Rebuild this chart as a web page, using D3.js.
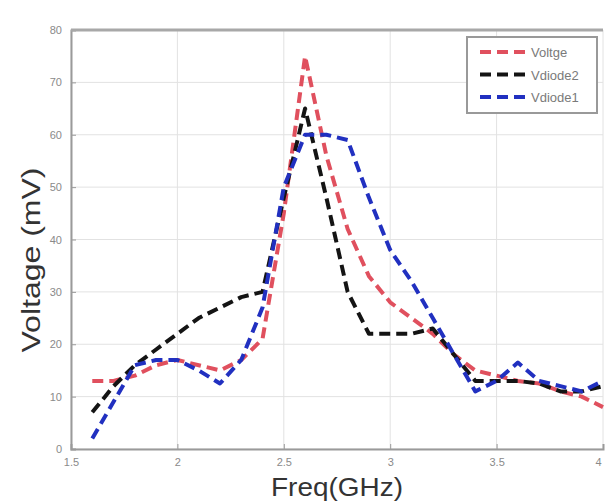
<!DOCTYPE html>
<html>
<head>
<meta charset="utf-8">
<script src="https://cdn.jsdelivr.net/npm/d3@7"></script>
<style>
  body { margin: 0; background: #fff; }
  svg { font-family: Arial, "Liberation Sans", sans-serif; }
  .grid line { stroke: #e2e2e2; stroke-width: 1; }
  .axis path, .axis line { stroke: #9a9a9a; }
  .axis text { fill: #8a8a8a; font-size: 11px; }
</style>
</head>
<body>
<svg id="chart" width="605" height="503"></svg>
<script>
  // frequency points (GHz)
  var freq = [1.6, 1.7, 1.8, 1.9, 2.0, 2.1, 2.2, 2.3, 2.4, 2.5, 2.6, 2.7, 2.8,
              2.9, 3.0, 3.1, 3.2, 3.3, 3.4, 3.5, 3.6, 3.7, 3.8, 3.9, 4.0];
  var voltge  = [13, 13, 14, 16, 17, 16, 15, 17, 21, 45, 75, 56, 42,
                 33, 28, 25, 22, 18, 15, 14, 13, 12.5, 11, 10, 8];
  var vdiode2 = [7, 12, 16, 19, 22, 25, 27, 29, 30, 48, 65, 48, 30,
                 22, 22, 22, 23, 18, 13, 13, 13, 12.5, 11, 11, 12];
  var vdiode1 = [2, 9, 16, 17, 17, 15, 12.5, 17, 27, 50, 60, 60, 59,
                 48, 38, 32, 25, 18, 11, 13, 16.5, 13, 12, 11, 13];
  var xTicks = [1.5, 2, 2.5, 3, 3.5, 4];
  var yTicks = [0, 10, 20, 30, 40, 50, 60, 70, 80];
  var seriesNames = ['Voltge', 'Vdiode2', 'Vdiode1'];
  var seriesColors = ['#e0505e', '#141414', '#2130c0'];

  var svg = d3.select('#chart'),
      margin = {top: 30, right: 2, bottom: 54, left: 71},
      width = +svg.attr('width') - margin.left - margin.right,
      height = +svg.attr('height') - margin.top - margin.bottom,
      g = svg.append('g').attr('transform', 'translate(' + margin.left + ',' + margin.top + ')');

  var x = d3.scaleLinear().domain([1.5, 4]).range([0, width]);
  var y = d3.scaleLinear().domain([0, 80]).range([height, 0]);

  // grid
  g.append('g').attr('class', 'grid')
    .selectAll('line.h').data(yTicks).enter().append('line')
      .attr('x1', 0).attr('x2', width)
      .attr('y1', function (d) { return y(d); })
      .attr('y2', function (d) { return y(d); });
  g.append('g').attr('class', 'grid')
    .selectAll('line.v').data(xTicks).enter().append('line')
      .attr('y1', 0).attr('y2', height)
      .attr('x1', function (d) { return x(d); })
      .attr('x2', function (d) { return x(d); });

  // axes
  var xAxisG = g.append('g').attr('class', 'x axis')
    .attr('transform', 'translate(0,' + height + ')')
    .call(d3.axisBottom(x).tickValues(xTicks).tickSize(-5).tickPadding(9)
      .tickFormat(d3.format('')));
  // last label sits on the right edge, keep it inside
  xAxisG.selectAll('.tick text')
    .filter(function (d) { return d === 4; })
    .style('text-anchor', 'end').attr('x', -2);
  g.append('g').attr('class', 'y axis')
    .call(d3.axisLeft(y).tickValues(yTicks).tickSize(-5).tickPadding(9));
  g.selectAll('.axis path').attr('stroke-width', 2);

  // top border
  g.append('line')
    .attr('x1', 0).attr('x2', width).attr('y1', 0).attr('y2', 0)
    .attr('stroke', '#a8a8a8').attr('stroke-width', 3);

  // series
  var line = d3.line()
    .x(function (d) { return x(d[0]); })
    .y(function (d) { return y(d[1]); });
  var allSeries = [voltge, vdiode2, vdiode1];
  allSeries.forEach(function (vals, i) {
    g.append('path')
      .datum(freq.map(function (f, j) { return [f, vals[j]]; }))
      .attr('fill', 'none')
      .attr('stroke', seriesColors[i])
      .attr('stroke-width', 4)
      .attr('stroke-dasharray', '11,6')
      .attr('stroke-linejoin', 'round')
      .attr('d', line);
  });

  // legend
  var lg = svg.append('g').attr('transform', 'translate(467,37)');
  lg.append('rect').attr('width', 130).attr('height', 76)
    .attr('fill', '#fff').attr('stroke', '#999').attr('stroke-width', 2);
  seriesNames.forEach(function (name, i) {
    var yy = 15 + i * 22.5;
    lg.append('line')
      .attr('x1', 13).attr('x2', 61).attr('y1', yy).attr('y2', yy)
      .attr('stroke', seriesColors[i]).attr('stroke-width', 4)
      .attr('stroke-dasharray', '11,6');
    lg.append('text').attr('x', 64).attr('y', yy + 5)
      .attr('font-size', 13).attr('fill', '#7a7a7a').text(name);
  });

  // axis titles
  svg.append('text')
    .attr('transform', 'translate(40,260) rotate(-90)')
    .attr('text-anchor', 'middle')
    .attr('font-size', 26).attr('fill', '#333')
    .attr('textLength', 185).attr('lengthAdjust', 'spacingAndGlyphs')
    .text('Voltage (mV)');
  svg.append('text')
    .attr('x', 337).attr('y', 496)
    .attr('text-anchor', 'middle')
    .attr('font-size', 26).attr('fill', '#333')
    .attr('textLength', 132).attr('lengthAdjust', 'spacingAndGlyphs')
    .text('Freq(GHz)');
</script>
</body>
</html>
